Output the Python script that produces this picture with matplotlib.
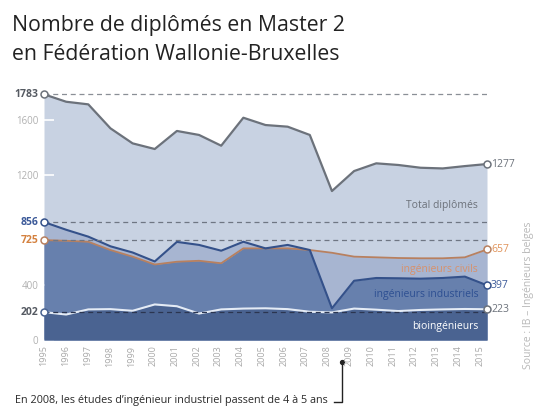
import numpy as np
import matplotlib
matplotlib.use("Agg")
import matplotlib.pyplot as plt
from matplotlib.transforms import blended_transform_factory

plt.rcParams['font.family'] = ['Open Sans', 'DejaVu Sans']

years = list(range(1995, 2016))
total = [1783, 1729, 1710, 1536, 1427, 1386, 1517, 1488, 1410, 1613, 1560,
         1548, 1488, 1081, 1226, 1282, 1270, 1250, 1245, 1262, 1277]
ind = [856, 800, 750, 680, 635, 570, 712, 690, 648, 713, 665,
       690, 653, 230, 430, 450, 448, 445, 450, 460, 397]
civ = [725, 720, 713, 653, 605, 548, 568, 575, 557, 665, 665,
       665, 653, 633, 605, 600, 595, 593, 593, 600, 657]
bio = [202, 185, 222, 224, 212, 258, 245, 192, 222, 228, 230,
       224, 205, 200, 228, 220, 210, 218, 222, 225, 223]

yticks = [0, 400, 1200, 1600]
xticklabels = [str(y) for y in years]

W, H = 537, 407
fig = plt.figure(figsize=(W / 100, H / 100), dpi=100)
fig.patch.set_facecolor('white')

ax_left, ax_right = 44 / W, 487 / W
y0_px, ymax = 340, 1800
top_px = 340 - ymax * 0.1378
ax = fig.add_axes([ax_left, 1 - y0_px / H, ax_right - ax_left, (y0_px - top_px) / H])
ax.set_xlim(1995, 2015)
ax.set_ylim(0, ymax)
for s in ax.spines.values():
    s.set_visible(False)
ax.set_facecolor('none')

x = np.array(years)
t = np.array(total)
i_ = np.array(ind)
c_ = np.array(civ)
b_ = np.array(bio)

ax.fill_between(x, 0, t, color='#c8d2e2', lw=0, zorder=1)
ax.fill_between(x, 0, np.maximum(i_, c_), color='#a7b5d1', lw=0, zorder=2)
ax.fill_between(x, 0, np.minimum(i_, c_), color='#6780ad', lw=0, zorder=3)
ax.fill_between(x, 0, b_, color='#4a6391', lw=0, zorder=4)

ax.plot(x, t, color='#6c727b', lw=1.6, zorder=6)
ax.plot(x, c_, color='#b8805f', lw=1.3, zorder=6)
ax.plot(x, i_, color='#34518a', lw=1.5, zorder=7)
ax.plot(x, b_, color='#e4ebf5', lw=1.5, zorder=7)

# dashed reference lines at initial values
for v, col in [(total[0], '#8a8f96'), (ind[0], '#6f7683'), (civ[0], '#6f7683'), (bio[0], '#2b3550')]:
    ax.axhline(v, color=col, lw=0.9, ls=(0, (4, 3)), zorder=8)

# markers and end labels
left = [(total[0], '#6c727b', '#555a62'), (ind[0], '#34518a', '#3c5a99'),
        (civ[0], '#b8805f', '#d4813f'), (bio[0], '#4a6391', '#555a62')]
right = [(total[-1], '#6c727b', '#6c727b'), (civ[-1], '#b8805f', '#e0935a'),
         (ind[-1], '#34518a', '#3c5a99'), (bio[-1], '#6c727b', '#6c727b')]
for v, ec, tc in left:
    ax.plot([1995], [v], 'o', ms=5, mfc='white', mec=ec, mew=1.1, zorder=10, clip_on=False)
    ax.text(1994.75, v, str(v), ha='right', va='center', color=tc, fontsize=7.5,
            fontweight='bold', zorder=10)
for v, ec, tc in right:
    ax.plot([2015], [v], 'o', ms=5, mfc='white', mec=ec, mew=1.1, zorder=10, clip_on=False)
    ax.text(2015.18, v, str(v), ha='left', va='center', color=tc, fontsize=7.5, zorder=10)

# y ticks
ax.set_yticks(yticks)
ax.set_yticklabels([str(v) for v in yticks])
ax.tick_params(axis='y', direction='in', length=7, width=1.2, color='white',
               labelcolor='#b0b0b0', labelsize=7, pad=4)
for tk in ax.yaxis.get_major_ticks():
    tk.tick1line.set_zorder(9)
ax.set_axisbelow(False)

# x tick labels (slightly tighter spacing than the data, as in the original)
tick_pos = [1995 + (y - 1995) * 0.984 for y in years]
ax.set_xticks(tick_pos)
ax.set_xticklabels(xticklabels, rotation=90)
ax.tick_params(axis='x', length=0, labelcolor='#a8a8a8', labelsize=6.5, pad=4)

# series labels
ax.text(2014.6, 975, 'Total diplômés', ha='right', va='center', color='#6c717a', fontsize=7.5, zorder=9)
ax.text(2014.6, 510, 'ingénieurs civils', ha='right', va='center', color='#d8916a', fontsize=7.5, zorder=9)
ax.text(2014.6, 330, 'ingénieurs industriels', ha='right', va='center', color='#2d4f92', fontsize=7.5, zorder=9)
ax.text(2014.6, 95, 'bioingénieurs', ha='right', va='center', color='white', fontsize=7.5, zorder=9)

# title
fig.text(12 / W, 1 - 26 / H, 'Nombre de diplômés en Master 2', ha='left', va='center',
         fontsize=15.3, color='#222222')
fig.text(12 / W, 1 - 55 / H, 'en Fédération Wallonie-Bruxelles', ha='left', va='center',
         fontsize=15.3, color='#222222')

# source
fig.text(529 / W, 1 - 295 / H, 'Source : IB – Ingénieurs belges', rotation=90, ha='center',
         va='center', color='#b8b8b8', fontsize=7.5)

# annotation
fig.text(15 / W, 1 - 400 / H, 'En 2008, les études d’ingénieur industriel passent de 4 à 5 ans',
         ha='left', va='center', color='#2a2a2a', fontsize=7.8)
tr = blended_transform_factory(ax.transData, fig.transFigure)
xa = 2008.45
ax.plot([xa, xa, xa - 0.35], [1 - 362 / H, 1 - 402 / H, 1 - 402 / H], color='#222222',
        lw=1.0, transform=tr, clip_on=False)
ax.plot([xa], [1 - 362 / H], 'o', ms=2.8, color='#222222', transform=tr, clip_on=False)

fig.savefig('out.png', dpi=100, facecolor='white')
